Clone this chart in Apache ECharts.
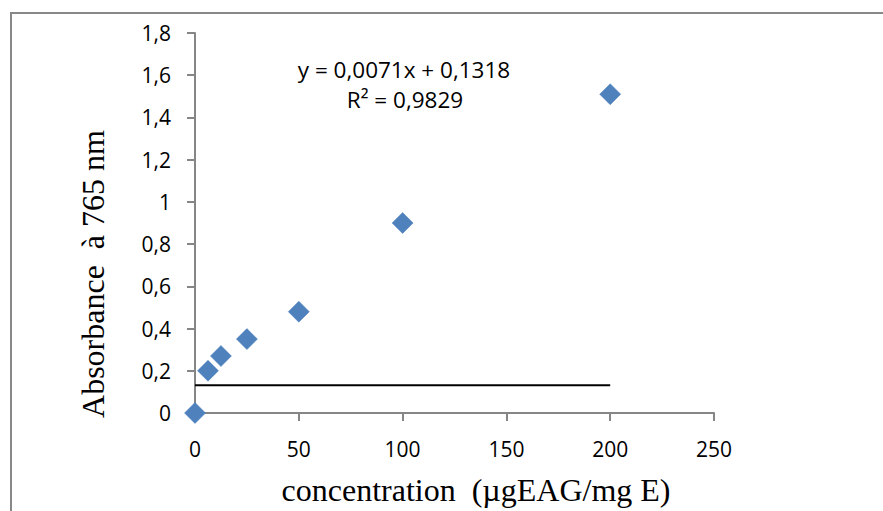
<!DOCTYPE html>
<html>
<head>
<meta charset="utf-8">
<script src="https://cdn.jsdelivr.net/npm/echarts@6/dist/echarts.min.js"></script>
<style>
html,body{margin:0;padding:0;background:#fff;}
#chart{width:883px;height:511px;}
</style>
</head>
<body>
<div id="chart"></div>
<script>
// Data
const concentrations = [0, 6.25, 12.5, 25, 50, 100, 200];
const absorbances = [0, 0.2, 0.27, 0.35, 0.48, 0.9, 1.51];
const trendX = [0, 200];
const trendIntercept = 0.1318;
const equationText = 'y = 0,0071x + 0,1318';
const r2Text = 'R² = 0,9829';
const xTitle = 'concentration  (µgEAG/mg E)';
const yTitle = 'Absorbance  à 765 nm';

const points = concentrations.map((c, i) => [c, absorbances[i]]);
const trendPoints = trendX.map(x => [x, trendIntercept]);

const chart = echarts.init(document.getElementById('chart'), null, {renderer: 'svg'});
const fmt = v => String(+v.toFixed(2)).replace('.', ',');
const axisColor = '#868686';
const tickFont = {fontFamily: 'Open Sans', fontSize: 21, color: '#000'};
const titleFont = {fontFamily: 'Liberation Serif', fontSize: 32, fill: '#000'};

chart.setOption({
  animation: false,
  backgroundColor: '#fff',
  grid: {left: 195, right: 169, top: 33, bottom: 98},
  xAxis: {
    type: 'value', min: 0, max: 250, interval: 50,
    axisLine: {show: true, onZero: false, lineStyle: {color: axisColor, width: 2}},
    axisTick: {show: true, length: 8, lineStyle: {color: axisColor, width: 2}},
    splitLine: {show: false},
    axisLabel: Object.assign({margin: 25}, tickFont)
  },
  yAxis: {
    type: 'value', min: 0, max: 1.8, interval: 0.2,
    axisLine: {show: true, lineStyle: {color: axisColor, width: 2}},
    axisTick: {show: true, length: 8, lineStyle: {color: axisColor, width: 2}},
    splitLine: {show: false},
    axisLabel: Object.assign({margin: 24, formatter: fmt}, tickFont)
  },
  graphic: [
    {type: 'rect', shape: {x: 11, y: 13, width: 900, height: 520}, style: {fill: 'none', stroke: '#888', lineWidth: 2}, silent: true, z: -1},
    {type: 'text', x: 404, y: 69, style: {text: equationText, fontFamily: 'Open Sans', fontSize: 22.5, fill: '#000', align: 'center', verticalAlign: 'middle'}},
    {type: 'text', x: 405, y: 99, style: {text: r2Text, fontFamily: 'Open Sans', fontSize: 22.5, fill: '#000', align: 'center', verticalAlign: 'middle'}},
    {type: 'text', x: 476, y: 490, style: Object.assign({text: xTitle, align: 'center', verticalAlign: 'middle'}, titleFont)},
    {type: 'text', x: 93, y: 274, rotation: Math.PI / 2, style: Object.assign({text: yTitle, align: 'center', verticalAlign: 'middle'}, titleFont)}
  ],
  series: [
    {
      type: 'line', data: trendPoints, symbol: 'none',
      lineStyle: {color: '#000', width: 2}, z: 1
    },
    {
      type: 'scatter', data: points, symbol: 'diamond', symbolSize: [21, 21],
      itemStyle: {color: '#4F81BD', borderColor: '#4A7EBB', borderWidth: 0.5, opacity: 1}, z: 3
    }
  ]
});
</script>
</body>
</html>
